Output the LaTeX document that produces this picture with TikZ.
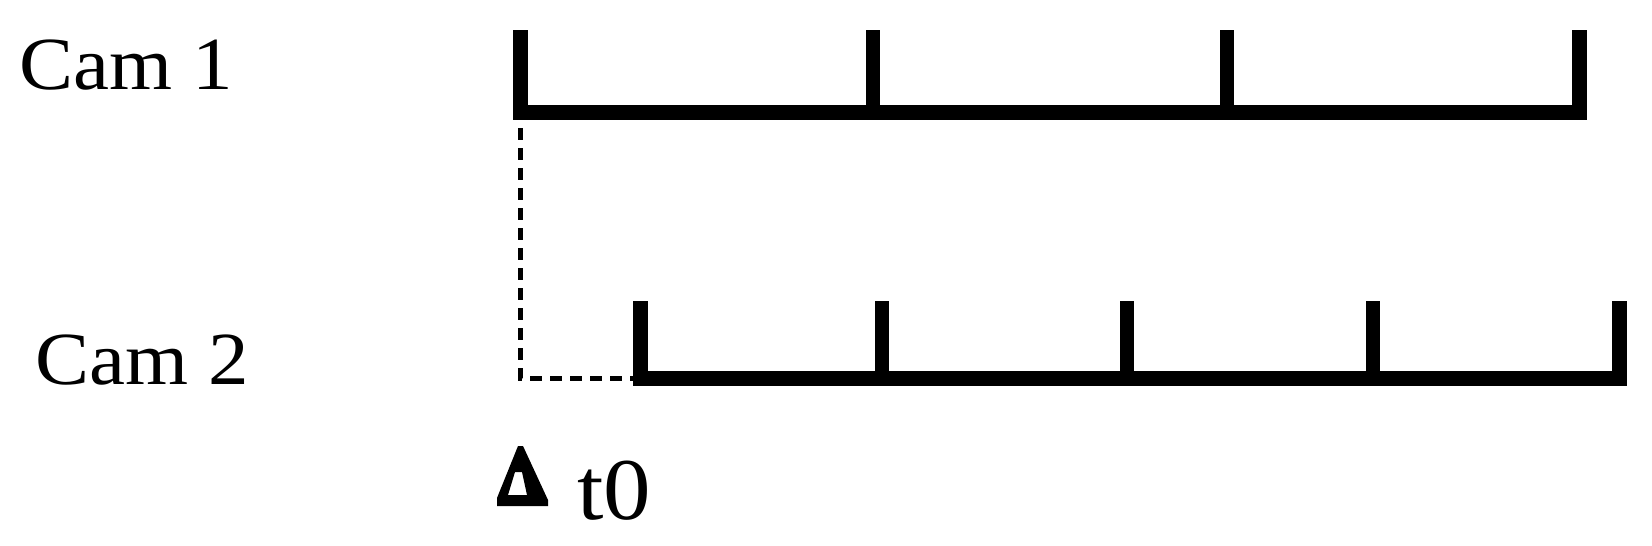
\documentclass[tikz,border=0pt]{standalone}
\usepackage{fontspec}
\newfontfamily\labelfont{Liberation Serif}[FakeStretch=1.08]
\begin{document}
\begin{tikzpicture}[x=1pt,y=-1pt,
  axis/.style={line width=15pt,line join=miter,line cap=butt},
  tick/.style={line width=14pt,line cap=butt},
  sync/.style={line width=5pt,dash pattern=on 12pt off 8pt,dash phase=12pt},
  camlabel/.style={anchor=base west,inner sep=0pt,font=\labelfont\fontsize{75}{90}\selectfont},
  tlabel/.style={anchor=base west,inner sep=0pt,font=\labelfont\fontsize{88}{100}\selectfont}]
\useasboundingbox (0,0) rectangle (1652,546);
% labels
\node[camlabel] (cam1) at (19,89) {Cam 1};
\node[camlabel] (cam2) at (35,384) {Cam 2};
\node[tlabel] (t0) at (577,519) {t0};
% camera 1 timeline
\coordinate (c1a) at (520,30);
\coordinate (c1s) at (520,112.5);
\coordinate (c1e) at (1579,112.5);
\coordinate (c1z) at (1579,30);
\draw[axis] (c1a) -- (c1s) -- (c1e) -- (c1z);
\foreach \x in {873,1227} \draw[tick] (\x,30) -- (\x,112.5);
% camera 2 timeline
\coordinate (c2a) at (640.5,301);
\coordinate (c2s) at (640.5,378.5);
\coordinate (c2e) at (1619,378.5);
\coordinate (c2z) at (1619,301);
\draw[axis] (c2a) -- (c2s) -- (c2e) -- (c2z);
\foreach \x in {881.5,1127,1373} \draw[tick] (\x,301) -- (\x,378.5);
% sync connector
\coordinate (c1b) at (520.5,120);
\coordinate (corner) at (520.5,378.5);
\coordinate (c2b) at (633,378.5);
\draw[sync] (c1b) -- (corner) -- (c2b);
% t0 marker
\fill[even odd rule] (518,446) -- (523,446) -- (548,500) -- (548,506) -- (497,506) -- (497,498) -- cycle
  (515,472) -- (522,472) -- (527,495) -- (508,495) -- cycle;
\end{tikzpicture}
\end{document}
